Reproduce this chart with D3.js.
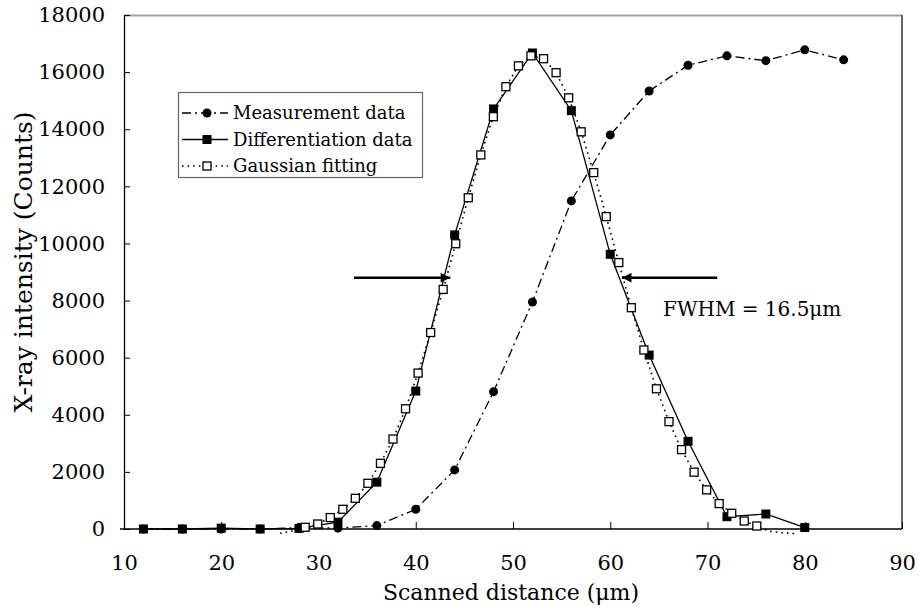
<!DOCTYPE html>
<html>
<head>
<meta charset="utf-8">
<script src="https://cdnjs.cloudflare.com/ajax/libs/d3/7.8.5/d3.min.js"></script>
<style>
  body { margin: 0; background: #fff; }
  text { font-family: "DejaVu Serif", "Liberation Serif", serif; fill: #000; }
</style>
</head>
<body>
<div class="chart"></div>
<script>
// measurement data (scan position, counts)
var measX = [12, 16, 20, 24, 28, 32, 36, 40, 44, 48, 52, 56, 60, 64, 68, 72, 76, 80, 84];
var measY = [0, 0, 0, 0, 50, 30, 120, 690, 2070, 4810, 7950, 11490, 13800, 15340, 16240, 16570, 16400, 16780, 16430];

// differentiation of the measurement
var diffX = [12, 16, 20, 24, 28, 32, 36, 40, 44, 48, 52, 56, 60, 64, 68, 72, 76, 80];
var diffY = [0, 0, 30, 0, 20, 240, 1640, 4830, 10300, 14710, 16670, 14650, 9620, 6090, 3070, 430, 525, 50];

// gaussian fit
var gaussX = [26.05, 27.34, 28.63, 29.92, 31.21, 32.50, 33.79, 35.08, 36.37, 37.66, 38.95,
              40.24, 41.53, 42.82, 44.11, 45.40, 46.69, 47.98, 49.27, 50.56, 51.85, 53.14,
              54.43, 55.72, 57.01, 58.30, 59.59, 60.88, 62.17, 63.46, 64.75, 66.04, 67.33,
              68.62, 69.91, 71.20, 72.49, 73.78, 75.07, 76.36, 77.65, 78.94];
var gaussY = [-150, -70, 60, 175, 400, 690, 1075, 1600, 2300, 3150, 4210,
              5460, 6880, 8390, 9990, 11600, 13100, 14440, 15490, 16220, 16570, 16470,
              15980, 15100, 13910, 12480, 10940, 9330, 7750, 6270, 4910, 3760, 2780,
              1990, 1370, 890, 550, 280, 105, -80, -130, -160];

// axis ticks
var xTicks = [10, 20, 30, 40, 50, 60, 70, 80, 90];
var yTicks = [0, 2000, 4000, 6000, 8000, 10000, 12000, 14000, 16000, 18000];

// FWHM arrows: [from x, to x] at the half height
var arrowLeft = [33.65, 43.55];
var arrowRight = [71.0, 61.2];
var arrowLevel = 8800;

var legendNames = ["Measurement data", "Differentiation data", "Gaussian fitting"];

var width = 919, height = 607;
var margin = { top: 15, right: 17, bottom: 78, left: 124 };
var plotW = width - margin.left - margin.right;
var plotH = height - margin.top - margin.bottom;

var svg = d3.select(".chart").append("svg")
  .attr("width", width)
  .attr("height", height);

var x = d3.scaleLinear().domain([10, 90]).range([0, plotW]);
var y = d3.scaleLinear().domain([0, 18000]).range([plotH, 0]);

var g = svg.append("g")
  .attr("transform", "translate(" + margin.left + "," + margin.top + ")");

// plot frame: grey top, black right
g.append("line")
  .attr("x1", 0).attr("x2", plotW).attr("y1", 0.5).attr("y2", 0.5)
  .attr("stroke", "#a0a0a0").attr("stroke-width", 2);
g.append("line")
  .attr("x1", plotW).attr("x2", plotW).attr("y1", 0).attr("y2", plotH)
  .attr("stroke", "#000").attr("stroke-width", 1.2);

// axes with inside ticks
var xAxis = g.append("g")
  .attr("transform", "translate(0," + plotH + ")")
  .call(d3.axisBottom(x).tickValues(xTicks).tickFormat(d3.format("d"))
    .tickSizeInner(-7).tickSizeOuter(0).tickPadding(26));
var yAxis = g.append("g")
  .call(d3.axisLeft(y).tickValues(yTicks).tickFormat(d3.format("d"))
    .tickSizeInner(-6).tickSizeOuter(0).tickPadding(19));

[xAxis, yAxis].forEach(function (a) {
  a.selectAll("path").attr("stroke", "#000").attr("stroke-width", 1.3);
  a.selectAll("line").attr("stroke", "#000").attr("stroke-width", 1);
  a.selectAll("text").attr("font-size", 21).attr("font-family", "DejaVu Serif");
});
xAxis.select(".domain").attr("d", "M-4,0H" + plotW);

// axis titles
svg.append("text")
  .attr("x", margin.left + plotW / 2 - 2)
  .attr("y", 600)
  .attr("text-anchor", "middle")
  .attr("font-size", 22)
  .text("Scanned distance (\u03bcm)");

svg.append("text")
  .attr("transform", "translate(32,262) rotate(-90)")
  .attr("text-anchor", "middle")
  .attr("font-size", 25)
  .text("X-ray intensity (Counts)");

// series
var meas = d3.zip(measX, measY);
var diff = d3.zip(diffX, diffY);
var gauss = d3.zip(gaussX, gaussY);

var line = d3.line()
  .x(function (d) { return x(d[0]); })
  .y(function (d) { return y(d[1]); });

g.append("path").datum(meas)
  .attr("d", line).attr("fill", "none")
  .attr("stroke", "#000").attr("stroke-width", 1.3)
  .attr("stroke-dasharray", "9,4,2,4");

g.append("path").datum(diff)
  .attr("d", line).attr("fill", "none")
  .attr("stroke", "#000").attr("stroke-width", 1.3);

g.append("path").datum(gauss)
  .attr("d", line).attr("fill", "none")
  .attr("stroke", "#000").attr("stroke-width", 1.6)
  .attr("stroke-dasharray", "1.6,4");

g.selectAll(".meas").data(meas).enter().append("circle")
  .attr("class", "meas")
  .attr("cx", function (d) { return x(d[0]); })
  .attr("cy", function (d) { return y(d[1]); })
  .attr("r", 4.5)
  .attr("fill", "#000");

g.selectAll(".diff").data(diff).enter().append("rect")
  .attr("class", "diff")
  .attr("x", function (d) { return x(d[0]) - 4.5; })
  .attr("y", function (d) { return y(d[1]) - 4.5; })
  .attr("width", 9).attr("height", 9)
  .attr("fill", "#000");

// markers below zero are not shown
g.selectAll(".gauss").data(gauss.filter(function (d) { return d[1] >= 0; }))
  .enter().append("rect")
  .attr("class", "gauss")
  .attr("x", function (d) { return x(d[0]) - 4; })
  .attr("y", function (d) { return y(d[1]) - 4; })
  .attr("width", 8).attr("height", 8)
  .attr("fill", "#fff").attr("stroke", "#000").attr("stroke-width", 1.3);

// FWHM arrows
svg.append("defs").append("marker")
  .attr("id", "head")
  .attr("viewBox", "0 0 10 10")
  .attr("refX", 10).attr("refY", 5)
  .attr("markerWidth", 4.5).attr("markerHeight", 4)
  .attr("markerUnits", "strokeWidth")
  .attr("orient", "auto")
  .append("path").attr("d", "M0,0L10,5L0,10Z").attr("fill", "#000");

[arrowLeft, arrowRight].forEach(function (a) {
  g.append("line")
    .attr("x1", x(a[0])).attr("x2", x(a[1]))
    .attr("y1", y(arrowLevel)).attr("y2", y(arrowLevel))
    .attr("stroke", "#000").attr("stroke-width", 2.4)
    .attr("marker-end", "url(#head)");
});

svg.append("text")
  .attr("x", 663).attr("y", 316)
  .attr("font-size", 20)
  .text("FWHM = 16.5\u03bcm");

// legend
var legend = svg.append("g").attr("transform", "translate(178,92)");
legend.append("rect")
  .attr("x", 0.5).attr("y", 0.5).attr("width", 244).attr("height", 85)
  .attr("fill", "#fff").attr("stroke", "#666").attr("stroke-width", 1.2);

var rows = legend.selectAll(".row").data(legendNames).enter().append("g")
  .attr("class", "row")
  .attr("transform", function (d, i) { return "translate(0," + (21 + i * 26.5) + ")"; });

rows.append("line")
  .attr("x1", 4).attr("x2", 50).attr("y1", 0).attr("y2", 0)
  .attr("stroke", "#000")
  .attr("stroke-width", function (d, i) { return i == 2 ? 1.6 : 1.3; })
  .attr("stroke-dasharray", function (d, i) { return ["9,4,2,4", null, "1.6,4"][i]; });

rows.each(function (d, i) {
  var r = d3.select(this);
  if (i == 0) {
    r.append("circle").attr("cx", 29).attr("cy", 0).attr("r", 4.5).attr("fill", "#000");
  } else if (i == 1) {
    r.append("rect").attr("x", 24.5).attr("y", -4.5).attr("width", 9).attr("height", 9).attr("fill", "#000");
  } else {
    r.append("rect").attr("x", 25).attr("y", -4).attr("width", 8).attr("height", 8)
      .attr("fill", "#fff").attr("stroke", "#000").attr("stroke-width", 1.3);
  }
});

rows.append("text")
  .attr("x", 55).attr("y", 6)
  .attr("font-size", 18)
  .text(function (d) { return d; });
</script>
</body>
</html>
